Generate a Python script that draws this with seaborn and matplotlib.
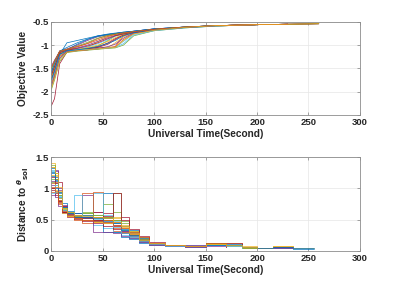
import pandas as pd
import matplotlib
matplotlib.use("Agg")
import matplotlib.pyplot as plt
import seaborn as sns

# --- data (a representative subset of the runs) ---
TOP_TIME = [0, 3, 8, 15, 25, 35, 45, 55, 62, 70, 80, 100, 130, 160, 200, 230, 260]
TOP_RUNS = [
    [-1.60, -1.40, -1.15, -1.10, -0.98, -0.88, -0.80, -0.76, -0.74, -0.72, -0.70, -0.65, -0.61, -0.58, -0.56, -0.55, -0.54],
    [-1.75, -1.55, -1.20, -1.12, -1.10, -1.08, -1.06, -1.05, -1.03, -0.80, -0.72, -0.66, -0.61, -0.58, -0.56],
    [-1.85, -1.65, -1.25, -1.13, -1.11, -1.05, -0.93, -0.82, -0.77, -0.74, -0.71, -0.66, -0.62, -0.58, -0.56, -0.55],
    [-1.50, -1.35, -1.12, -1.08, -1.00, -0.90, -0.82, -0.78, -0.75, -0.73, -0.70, -0.65, -0.61, -0.58, -0.56, -0.55, -0.54],
    [-1.70, -1.50, -1.18, -1.11, -1.09, -1.07, -1.02, -0.90, -0.80, -0.75, -0.72, -0.67, -0.62, -0.59, -0.56],
    [-1.90, -1.70, -1.30, -1.14, -1.12, -1.10, -1.08, -1.06, -1.05, -0.92, -0.76, -0.68, -0.62, -0.59, -0.56, -0.55],
    [-2.30, -2.15, -1.40, -1.15, -1.11, -1.08, -1.05, -0.98, -0.88, -0.78, -0.72, -0.67, -0.62, -0.58, -0.56],
    [-1.55, -1.45, -1.20, -0.95, -0.90, -0.85, -0.80, -0.77, -0.75, -0.72, -0.70, -0.65, -0.61, -0.58, -0.56, -0.55],
    [-1.65, -1.45, -1.15, -1.10, -1.04, -0.96, -0.86, -0.79, -0.76, -0.73, -0.71, -0.66, -0.61, -0.58, -0.56, -0.55, -0.54],
    [-1.80, -1.60, -1.22, -1.12, -1.10, -1.09, -1.07, -1.05, -0.95, -0.82, -0.74, -0.67, -0.62, -0.58, -0.56],
    [-1.45, -1.32, -1.14, -1.10, -1.06, -1.00, -0.92, -0.84, -0.79, -0.75, -0.72, -0.66, -0.61, -0.58, -0.56, -0.55],
    [-1.95, -1.75, -1.35, -1.16, -1.13, -1.11, -1.09, -1.07, -1.06, -1.00, -0.80, -0.69, -0.63, -0.59, -0.56],
    [-1.62, -1.42, -1.16, -1.11, -1.08, -1.04, -0.97, -0.88, -0.81, -0.76, -0.72, -0.66, -0.62, -0.58, -0.56, -0.55],
    [-1.72, -1.52, -1.19, -1.12, -1.10, -1.08, -1.04, -0.95, -0.86, -0.78, -0.73, -0.67, -0.62, -0.58, -0.56, -0.55, -0.54],
    [-1.58, -1.38, -1.13, -1.05, -0.95, -0.87, -0.81, -0.77, -0.75, -0.73, -0.70, -0.65, -0.61, -0.58, -0.56],
    [-1.82, -1.62, -1.24, -1.13, -1.11, -1.10, -1.08, -1.06, -1.04, -0.88, -0.75, -0.68, -0.62, -0.59, -0.56, -0.55],
    [-1.68, -1.48, -1.17, -1.11, -1.09, -1.06, -1.00, -0.92, -0.84, -0.77, -0.72, -0.66, -0.62, -0.58, -0.56],
    [-1.88, -1.68, -1.28, -1.14, -1.12, -1.10, -1.07, -1.03, -0.98, -0.85, -0.74, -0.67, -0.62, -0.58, -0.56, -0.55],
    [-1.52, -1.36, -1.13, -1.09, -1.02, -0.94, -0.85, -0.79, -0.76, -0.74, -0.71, -0.66, -0.61, -0.58, -0.56, -0.55, -0.54],
    [-1.78, -1.58, -1.21, -1.12, -1.10, -1.09, -1.08, -1.06, -1.05, -0.97, -0.78, -0.69, -0.63, -0.59, -0.56],
    [-1.64, -1.46, -1.16, -1.11, -1.07, -1.02, -0.95, -0.86, -0.80, -0.76, -0.72, -0.66, -0.62, -0.58, -0.56, -0.55],
    [-1.74, -1.56, -1.20, -1.12, -1.10, -1.07, -1.03, -0.96, -0.90, -0.80, -0.73, -0.67, -0.62, -0.58],
    [-1.48, -1.34, -1.13, -1.09, -1.03, -0.97, -0.89, -0.81, -0.77, -0.74, -0.71, -0.66, -0.61, -0.58, -0.56, -0.55],
    [-1.92, -1.72, -1.32, -1.15, -1.12, -1.10, -1.08, -1.06, -1.05, -0.90, -0.76, -0.68, -0.62, -0.58, -0.56, -0.55, -0.54],
]

BOT_TIME = [0, 3, 6, 10, 15, 22, 30, 40, 50, 60, 68, 75, 85, 95, 110, 130, 150, 170, 185, 200, 215, 235, 255]
BOT_RUNS = [
    [1.20, 1.00, 0.85, 0.65, 0.58, 0.55, 0.52, 0.50, 0.92, 0.50, 0.35, 0.28, 0.18, 0.12, 0.09, 0.08, 0.12, 0.10, 0.06, 0.05, 0.06, 0.04],
    [1.00, 1.10, 0.75, 0.62, 0.56, 0.60, 0.55, 0.50, 0.45, 0.32, 0.28, 0.22, 0.15, 0.10, 0.08, 0.07, 0.10, 0.06],
    [1.40, 1.20, 0.95, 0.68, 0.60, 0.52, 0.50, 0.46, 0.50, 0.55, 0.38, 0.25, 0.16, 0.11, 0.09, 0.07, 0.11, 0.12, 0.07, 0.05, 0.07, 0.05, 0.04],
    [0.90, 1.30, 1.00, 0.72, 0.58, 0.52, 0.90, 0.62, 0.55, 0.42, 0.32, 0.28, 0.17, 0.12, 0.09, 0.07, 0.08, 0.06],
    [1.10, 0.95, 0.82, 0.62, 0.57, 0.58, 0.60, 0.55, 0.50, 0.93, 0.48, 0.32, 0.22, 0.13, 0.10, 0.08, 0.11, 0.07],
    [1.30, 1.05, 0.78, 0.66, 0.60, 0.55, 0.50, 0.42, 0.36, 0.30, 0.26, 0.22, 0.16, 0.11, 0.08, 0.09, 0.12, 0.09, 0.06, 0.05, 0.06],
    [1.00, 0.90, 1.10, 0.72, 0.61, 0.53, 0.55, 0.62, 0.60, 0.46, 0.55, 0.27, 0.19, 0.12, 0.09, 0.07, 0.10, 0.06],
    [1.25, 1.12, 0.92, 0.76, 0.63, 0.60, 0.50, 0.48, 0.30, 0.30, 0.22, 0.19, 0.13, 0.10, 0.07, 0.06, 0.10, 0.11, 0.06, 0.04, 0.05, 0.03, 0.03],
    [0.95, 1.15, 0.82, 0.62, 0.58, 0.50, 0.45, 0.95, 0.52, 0.36, 0.30, 0.24, 0.15, 0.11, 0.08, 0.07, 0.09],
    [1.35, 1.22, 0.96, 0.70, 0.56, 0.55, 0.58, 0.52, 0.55, 0.50, 0.42, 0.32, 0.21, 0.13, 0.10, 0.08, 0.12, 0.10, 0.06, 0.05],
    [1.05, 0.86, 0.72, 0.61, 0.58, 0.60, 0.50, 0.55, 0.46, 0.40, 0.32, 0.23, 0.14, 0.11, 0.08, 0.10, 0.12, 0.07, 0.05, 0.04, 0.05, 0.04],
    [1.15, 1.25, 0.90, 0.68, 0.62, 0.57, 0.62, 0.58, 0.75, 0.50, 0.33, 0.26, 0.17, 0.12, 0.09, 0.07, 0.09],
    [1.28, 1.08, 0.88, 0.64, 0.59, 0.54, 0.56, 0.93, 0.58, 0.48, 0.30, 0.20, 0.14, 0.10, 0.08, 0.07, 0.11, 0.08, 0.05],
    [0.98, 0.92, 0.80, 0.63, 0.55, 0.51, 0.48, 0.44, 0.40, 0.35, 0.28, 0.24, 0.16, 0.11, 0.08, 0.07, 0.10, 0.13, 0.06, 0.05, 0.06, 0.04],
    [1.32, 1.18, 0.86, 0.70, 0.64, 0.60, 0.58, 0.55, 0.52, 0.45, 0.40, 0.34, 0.20, 0.13, 0.10, 0.08, 0.10, 0.07],
    [1.08, 1.02, 0.76, 0.66, 0.57, 0.56, 0.92, 0.55, 0.50, 0.40, 0.30, 0.25, 0.17, 0.11, 0.09, 0.07, 0.12, 0.10, 0.06, 0.05],
    [1.22, 0.98, 0.84, 0.60, 0.56, 0.53, 0.50, 0.47, 0.44, 0.52, 0.36, 0.27, 0.18, 0.12, 0.09, 0.08, 0.11, 0.08, 0.05, 0.05, 0.07, 0.05],
    [1.12, 1.28, 0.98, 0.74, 0.60, 0.58, 0.55, 0.30, 0.30, 0.28, 0.24, 0.20, 0.14, 0.10, 0.08, 0.06, 0.09],
    [1.38, 1.15, 0.90, 0.67, 0.61, 0.56, 0.60, 0.57, 0.54, 0.62, 0.45, 0.30, 0.19, 0.12, 0.09, 0.08, 0.13, 0.09, 0.05, 0.04],
    [0.92, 1.06, 0.86, 0.65, 0.58, 0.90, 0.53, 0.51, 0.47, 0.38, 0.29, 0.23, 0.15, 0.11, 0.08, 0.07, 0.10, 0.08, 0.05],
    [1.18, 1.08, 0.80, 0.63, 0.59, 0.54, 0.52, 0.49, 0.56, 0.93, 0.50, 0.35, 0.23, 0.14, 0.10, 0.08, 0.11],
    [1.26, 1.14, 0.94, 0.71, 0.60, 0.55, 0.54, 0.53, 0.48, 0.44, 0.34, 0.26, 0.17, 0.12, 0.09, 0.07, 0.10, 0.09, 0.06, 0.05, 0.06, 0.05, 0.04],
    [1.02, 0.96, 0.78, 0.64, 0.57, 0.52, 0.50, 0.48, 0.46, 0.42, 0.36, 0.30, 0.22, 0.13, 0.09, 0.08, 0.12, 0.08],
    [1.34, 1.24, 1.02, 0.69, 0.62, 0.58, 0.56, 0.54, 0.52, 0.47, 0.40, 0.28, 0.18, 0.12, 0.09, 0.07, 0.11, 0.10, 0.06, 0.05],
]

MATLAB_COLORS = ["#0072BD", "#D95319", "#EDB120", "#7E2F8E", "#77AC30", "#4DBEEE", "#A2142F"]


def to_long(time, runs):
    rows = []
    for i, vals in enumerate(runs):
        for t, v in zip(time, vals):
            rows.append({"run": i, "time": t, "value": v})
    return pd.DataFrame(rows)


top_df = to_long(TOP_TIME, TOP_RUNS)
bot_df = to_long(BOT_TIME, BOT_RUNS)
top_pal = [MATLAB_COLORS[i % len(MATLAB_COLORS)] for i in range(len(TOP_RUNS))]
bot_pal = [MATLAB_COLORS[i % len(MATLAB_COLORS)] for i in range(len(BOT_RUNS))]

sns.set_style("whitegrid")
plt.rcParams["font.family"] = ["Liberation Sans", "DejaVu Sans"]
plt.rcParams["font.weight"] = "bold"
plt.rcParams["mathtext.fontset"] = "dejavusans"

fig = plt.figure(figsize=(3.99, 2.88), dpi=100)
ax1 = fig.add_axes([0.129, 0.601, 0.773, 0.323])
ax2 = fig.add_axes([0.129, 0.129, 0.773, 0.325])

sns.lineplot(data=top_df, x="time", y="value", hue="run", palette=top_pal,
             estimator=None, legend=False, linewidth=0.5, ax=ax1)
sns.lineplot(data=bot_df, x="time", y="value", hue="run", palette=bot_pal,
             estimator=None, legend=False, linewidth=0.5, drawstyle="steps-post", ax=ax2)

ax1.set_xlim(0, 300)
ax1.set_ylim(-2.5, -0.5)
ax1.set_yticks([-2.5, -2, -1.5, -1, -0.5])
ax1.set_yticklabels(["-2.5", "-2", "-1.5", "-1", "-0.5"])
ax1.set_ylabel("Objective Value", fontsize=7.3, fontweight="bold", labelpad=3)

ax2.set_xlim(0, 300)
ax2.set_ylim(0, 1.5)
ax2.set_yticks([0, 0.5, 1, 1.5])
ax2.set_yticklabels(["0", "0.5", "1", "1.5"])
ax2.set_ylabel(r"Distance to $^{\theta}$$_{\rm sol}$", fontsize=7.3, fontweight="bold", labelpad=3)

for ax in (ax1, ax2):
    ax.set_xticks([0, 50, 100, 150, 200, 250, 300])
    ax.set_xlabel("Universal Time(Second)", fontsize=7.3, fontweight="bold", labelpad=2)
    ax.tick_params(labelsize=6.8, pad=2, length=2, width=0.5, direction="in",
                   top=True, right=True, bottom=True, left=True, color="#808080")
    ax.grid(True, color="#e6e6e6", linewidth=0.5)
    for s in ax.spines.values():
        s.set_color("#8c8c8c")
        s.set_linewidth(0.6)
    for lab in ax.get_xticklabels() + ax.get_yticklabels():
        lab.set_fontweight("bold")
        lab.set_color("#262626")

fig.savefig("out.png", dpi=100)
